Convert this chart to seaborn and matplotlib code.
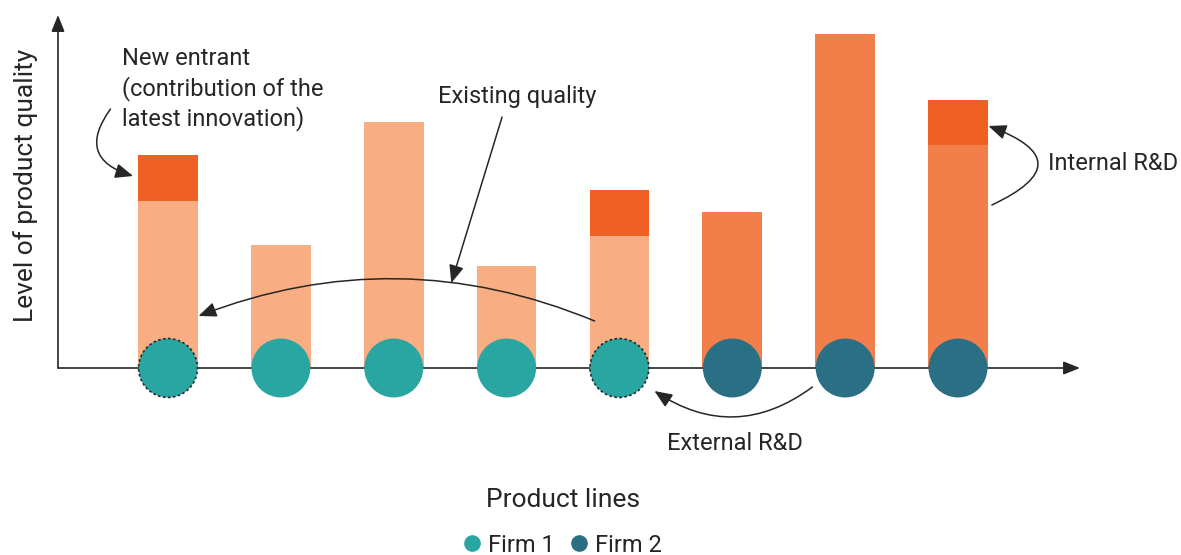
import numpy as np
import pandas as pd
import seaborn as sns
import matplotlib.pyplot as plt
from matplotlib.lines import Line2D

# data (quality units, 1 unit ~ 100 px)
products = ["P1", "P2", "P3", "P4", "P5", "P6", "P7", "P8"]
firms = ["Firm 1", "Firm 1", "Firm 1", "Firm 1", "Firm 1", "Firm 2", "Firm 2", "Firm 2"]
existing = [1.67, 1.23, 2.46, 1.02, 1.32, 1.56, 3.34, 2.23]
innovation = [0.46, 0.0, 0.0, 0.0, 0.46, 0.0, 0.0, 0.45]
new_entrant = [True, False, False, False, True, False, False, False]

firm_colors = {"Firm 1": "#29A5A2", "Firm 2": "#2B6F84"}
bar_colors = {"Firm 1": "#F8AD82", "Firm 2": "#F27F4A"}
innov_color = "#F06025"
ink = "#262626"

df = pd.DataFrame({"product": products, "firm": firms, "existing": existing,
                   "innovation": innovation, "entrant": new_entrant})
df["total"] = df["existing"] + df["innovation"]
df["pos"] = np.arange(len(df))
df["base"] = 0.0

sns.set_style("white")
plt.rcParams["font.family"] = ["Roboto", "DejaVu Sans"]

W, H = 1181, 555
fig = plt.figure(figsize=(W / 100, H / 100), dpi=100)
ax = fig.add_axes([58 / W, 1 - 368 / H, (1080 - 58) / W, (368 - 15) / H])

# innovation on top (drawn as full height), existing quality over it
sns.barplot(data=df, x="product", y="total", color=innov_color, width=0.53,
            saturation=1, errorbar=None, linewidth=0, ax=ax, zorder=1)
sns.barplot(data=df, x="product", y="existing", hue="firm", palette=bar_colors,
            dodge=False, width=0.53, saturation=1, errorbar=None, legend=False,
            linewidth=0, ax=ax, zorder=1)

# firm circles on the axis
sns.scatterplot(data=df, x="pos", y="base", hue="firm", palette=firm_colors,
                s=1800, linewidth=0, legend=False, ax=ax, clip_on=False, zorder=4)
ent = df[df["entrant"]]
ax.scatter(ent["pos"], ent["base"], s=1800, facecolors="none", edgecolors=ink,
           linestyles=(0, (1.5, 1.5)), linewidths=1.2, clip_on=False, zorder=5)

ax.set_xlim(-0.975, 8.081)
ax.set_ylim(0, 3.53)
ax.set_xticks([])
ax.set_yticks([])
ax.set_xlabel("")
ax.set_ylabel("")
sns.despine(ax=ax, left=True, bottom=True)

# axes drawn as arrows
axis_arrow = dict(arrowstyle="-|>,head_length=0.5,head_width=0.2", color=ink,
                  lw=1.2, shrinkA=0, shrinkB=0, mutation_scale=20)
ax.annotate("", xy=(1, 0), xytext=(0, 0), xycoords="axes fraction",
            arrowprops=axis_arrow, zorder=2)
ax.annotate("", xy=(0, 1), xytext=(0, 0), xycoords="axes fraction",
            arrowprops=axis_arrow, zorder=2)

fig.text(26 / W, 1 - 185 / H, "Level of product quality", rotation=90,
         ha="center", va="center", fontsize=19, color=ink)
fig.text(563 / W, 1 - 500 / H, "Product lines", ha="center", va="center",
         fontsize=19, color=ink)

# annotations
fs = 17
arr = dict(arrowstyle="-|>,head_length=0.6,head_width=0.25", color=ink, lw=1.1,
           shrinkA=0, shrinkB=0, mutation_scale=18)

ax.text(-0.408, 3.21, "New entrant\n(contribution of the\nlatest innovation)",
        ha="left", va="top", fontsize=fs, color=ink, linespacing=1.3)
ax.annotate("", xy=(-0.31, 1.92), xytext=(-0.51, 2.59),
            arrowprops=dict(arr, connectionstyle="arc3,rad=0.7"), annotation_clip=False)

ax.text(3.09, 2.71, "Existing quality", ha="center", va="center", fontsize=fs, color=ink)
ax.annotate("", xy=(2.51, 0.85), xytext=(2.96, 2.51),
            arrowprops=dict(arr, connectionstyle="arc3,rad=0"), annotation_clip=False)
ax.annotate("", xy=(0.27, 0.52), xytext=(3.78, 0.47),
            arrowprops=dict(arr, connectionstyle="arc3,rad=0.2"), annotation_clip=False)

ax.text(7.80, 2.04, "Internal R&D", ha="left", va="center", fontsize=fs, color=ink)
ax.annotate("", xy=(7.27, 2.42), xytext=(7.30, 1.63),
            arrowprops=dict(arr, connectionstyle="arc3,rad=1.2"), annotation_clip=False)

ax.text(5.02, -0.76, "External R&D", ha="center", va="center", fontsize=fs, color=ink)
ax.annotate("", xy=(4.31, -0.23), xytext=(5.71, -0.19),
            arrowprops=dict(arr, connectionstyle="arc3,rad=-0.35"), annotation_clip=False)

handles = [Line2D([], [], marker="o", linestyle="", markersize=12,
                  markerfacecolor=firm_colors[f], markeredgewidth=0, label=f)
           for f in firm_colors]
fig.legend(handles=handles, loc="center", bbox_to_anchor=(561 / W, 1 - 545 / H),
           ncol=2, frameon=False, fontsize=17, handletextpad=0.15,
           columnspacing=0.55, handlelength=1.0, labelcolor=ink)

fig.savefig("out.png", dpi=100)
